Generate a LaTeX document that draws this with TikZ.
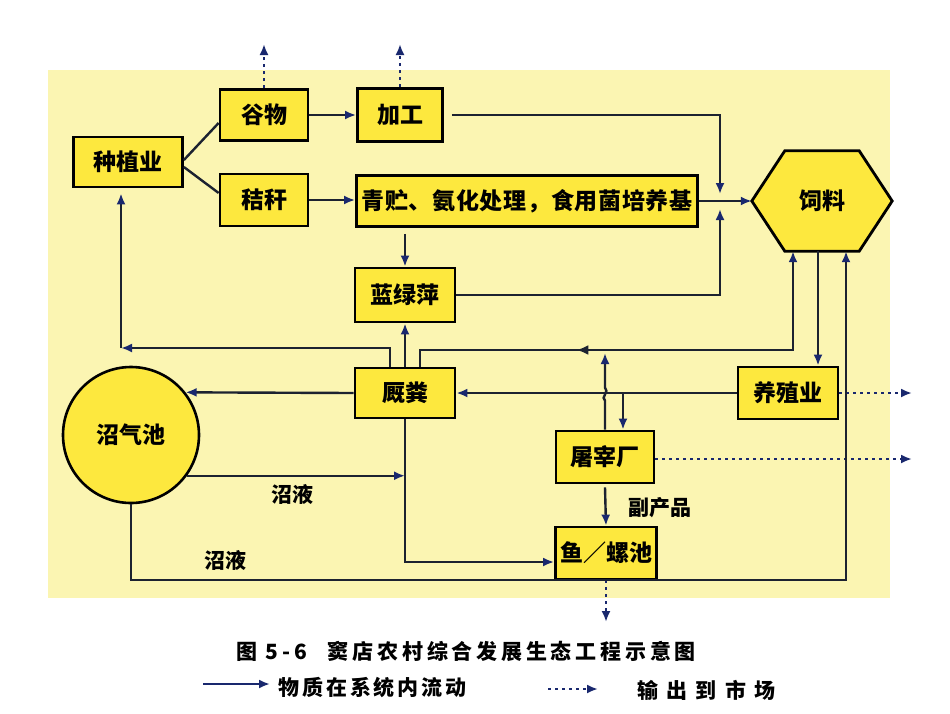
\documentclass[tikz,border=0pt]{standalone}
\usepackage{fontspec}
\setmainfont{Noto Sans CJK SC}
\usetikzlibrary{arrows.meta,decorations.markings,calc}
\definecolor{boxy}{RGB}{253,232,62}
\definecolor{bgy}{RGB}{251,245,178}
\definecolor{linec}{RGB}{28,34,48}
\definecolor{navy}{RGB}{25,40,110}
\pgfdeclarelayer{back}
\pgfsetlayers{back,main}
\begin{document}
\begin{tikzpicture}[x=1pt,y=-1pt,
  box/.style={draw=black,line width=2.8pt,fill=boxy,inner sep=0pt,font=\bfseries\fontsize{23}{23}\selectfont},
  flow/.style={draw=linec,line width=2.4pt,-{Latex[length=11pt,width=9pt,color=navy]}},
  plainl/.style={draw=linec,line width=2.4pt},
  market/.style={draw=navy,line width=2.2pt,dash pattern=on 3pt off 4pt,-{Latex[length=11pt,width=9pt,color=navy]}},
  lbl/.style={font=\bfseries\fontsize{21}{21}\selectfont,inner sep=0pt}]
\useasboundingbox (0,0) rectangle (950,713);

% nodes
\node[box,minimum width=109pt,minimum height=50pt] (zhong) at (128,162) {种植业};
\node[box,minimum width=88pt,minimum height=51pt] (gu) at (264,115) {谷物};
\node[box,minimum width=88pt,minimum height=52pt] (jie) at (264,200) {秸秆};
\node[box,minimum width=85pt,minimum height=53pt] (jia) at (400,115) {加工};
\node[box,minimum width=341pt,minimum height=51pt] (qing) at (527,201) {\addfontfeature{LetterSpace=3}青贮、氨化处理，食用菌培养基};
\node[box,minimum width=100pt,minimum height=54pt] (lv) at (405,295) {蓝绿萍};
\node[inner sep=0pt,minimum width=140pt,minimum height=100pt,font=\bfseries\fontsize{23}{23}\selectfont] (si) at (822,201) {饲料};
\node[box,minimum width=100pt,minimum height=50pt] (jiu) at (405,393) {厩粪};
\node[box,minimum width=100pt,minimum height=52pt] (yang) at (788,393) {养殖业};
\node[box,minimum width=98pt,minimum height=52pt] (tu) at (605,457) {屠宰厂};
\node[box,minimum width=101pt,minimum height=52pt] (yu) at (606,553) {鱼／螺池};
\node[circle,draw=black,line width=2.6pt,fill=boxy,minimum size=136pt,inner sep=0pt,font=\bfseries\fontsize{23}{23}\selectfont] (zhao) at (131,435) {沼气池};

\begin{pgfonlayer}{back}
\fill[bgy] (48,70) rectangle (890,598);
\draw[line width=2.8pt,fill=boxy,line join=miter]
  (si.west) -- ([xshift=33pt]si.north west) -- ([xshift=-33pt]si.north east)
  -- (si.east) -- ([xshift=-33pt]si.south east) -- ([xshift=33pt]si.south west) -- cycle;
\end{pgfonlayer}

% upper connectors
\draw[plainl] ([yshift=2pt]zhong.east) -- ([yshift=-8pt]gu.west);
\draw[plainl] ([yshift=-5pt]zhong.east) -- ([yshift=7pt]jie.west);
\draw[flow] (gu.east) -- (jia.west);
\draw[flow] (jie.east) -- (jie.east -| qing.west);
\coordinate (m1) at (720,194);
\draw[flow] ([xshift=8pt]jia.east) -| (m1);
\draw[flow] (qing.east) -- (si.west);
\coordinate (m2) at (720,209);
\draw[flow] (lv.east) -| (m2);
\draw[flow] ([yshift=-6pt]qing.south -| lv.north) -- (lv.north);
\coordinate (o1) at (264,44);
\coordinate (o2) at (400,44);
\draw[market] (gu.north) -- (o1);
\draw[market] (jia.north) -- (o2);

% lower connectors
\coordinate (c2) at (121,348);
\draw[flow] ([xshift=-15pt]jiu.north) |- (c2);
\draw[flow] (c2) -- ([yshift=-5pt]zhong.south -| c2);
\draw[flow] (jiu.north) -- (lv.south);
\coordinate (c3) at (793,350);
\draw[flow,postaction={decorate},decoration={markings,mark=at position 173pt with {\arrowreversed[color=linec]{Latex[length=12pt,width=10pt]}}}]
  ([xshift=15pt]jiu.north) |- (c3) -- (c3 |- si.south);
\draw[flow] (tu.north) -- ++(0,-29) .. controls +(-5,-3) and +(5,4) .. ++(0,-13) -- ([yshift=-3pt]tu.north |- c3);
\draw[flow] (yang.west) -- (jiu.east);
\coordinate (c4) at (623,393);
\draw[flow] (c4) -- (c4 |- tu.north);
\coordinate (c5) at (818,0);
\draw[flow] (c5 |- si.south) -- (c5 |- yang.north);
\coordinate (o3) at (912,393);
\draw[market] (yang.east) -- (o3);
\coordinate (o4) at (912,459);
\draw[market] ([yshift=-2pt]tu.east) -- (o4);
\draw[flow] ([yshift=-3pt]tu.south) -- (yu.north);
\node[lbl] (fu) at (660,508) {副产品};
\coordinate (o5) at (606,622);
\draw[market] (yu.south) -- (o5);
\draw[flow] (jiu.south) |- ([yshift=-9pt]yu.west);
\draw[flow] (jiu.west) -- (zhao.38);
\draw[flow] (zhao.-36) -- (zhao.-36 -| jiu.south);
\node[lbl] (zy1) at (292,494) {沼液};
\coordinate (c6) at (846,580);
\draw[flow] (zhao.south) |- (c6) -- (c6 |- si.south);
\node[lbl] (zy2) at (225,560) {沼液};

% caption and legend
\node[anchor=west,inner sep=0pt,font=\bfseries\fontsize{21}{21}\selectfont] (title) at (236,651) {\addfontfeature{LetterSpace=18}图 5-6\quad 窦店农村综合发展生态工程示意图};
\coordinate (l1a) at (203,684);
\coordinate (l1b) at (270,684);
\draw[flow,draw=navy] (l1a) -- (l1b);
\node[lbl,anchor=west] (leg1) at (278,687) {\addfontfeature{LetterSpace=14}物质在系统内流动};
\coordinate (l2a) at (548,689);
\coordinate (l2b) at (598,689);
\draw[market] (l2a) -- (l2b);
\node[lbl,anchor=west] (leg2) at (637,690) {\addfontfeature{LetterSpace=40}输出到市场};
\end{tikzpicture}
\end{document}
